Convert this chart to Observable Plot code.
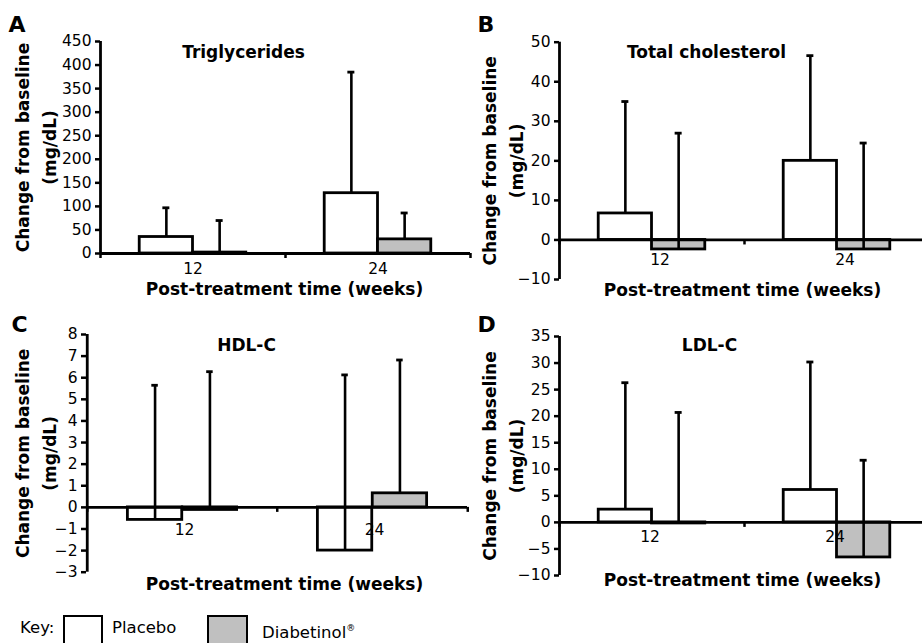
<!DOCTYPE html>
<html><head><meta charset="utf-8">
<script src="https://cdn.jsdelivr.net/npm/d3@7"></script>
<script src="https://cdn.jsdelivr.net/npm/@observablehq/plot@0.6"></script>
<style>
body{margin:0;background:#fff;font-family:"DejaVu Sans",sans-serif;}
#root{position:relative;width:922px;height:643px;overflow:hidden;background:#fff;}
.panel{position:absolute;}
.lg{position:absolute;font-size:16.5px;line-height:20px;color:#000;white-space:nowrap;}
.box{position:absolute;box-sizing:border-box;border:2.5px solid #000;width:40px;height:40px;}
sup{font-size:9px;vertical-align:7px;line-height:0;}
</style></head>
<body><div id="root">
<div class="panel" id="pA" style="left:0;top:0"></div>
<div class="panel" id="pB" style="left:461px;top:0"></div>
<div class="panel" id="pC" style="left:0;top:310px"></div>
<div class="panel" id="pD" style="left:461px;top:310px"></div>
<div class="lg" style="left:20px;top:618px">Key:</div>
<div class="box" style="left:63px;top:615px;background:#fff"></div>
<div class="lg" style="left:112px;top:618px">Placebo</div>
<div class="box" style="left:207px;top:615px;width:41px;background:#c0c0c0"></div>
<div class="lg" style="left:262px;top:623px">Diabetinol<sup>®</sup></div>
</div>
<script>
const weeks = ["12", "24"];
const groups = ["Placebo", "Diabetinol"];

// Triglycerides (mean change, SD)
const tgPlacebo = [35, 128];
const tgPlaceboSD = [62, 257];
const tgDiab = [2, 30];
const tgDiabSD = [68, 56];
const tgTicks = [0, 50, 100, 150, 200, 250, 300, 350, 400, 450];

// Total cholesterol
const tcPlacebo = [6.7, 20];
const tcPlaceboSD = [28.3, 26.6];
const tcDiab = [-2.4, -2.4];
const tcDiabSD = [29.4, 26.9];
const tcTicks = [-10, 0, 10, 20, 30, 40, 50];

// HDL-C
const hdlPlacebo = [-0.58, -2.0];
const hdlPlaceboSD = [6.23, 8.13];
const hdlDiab = [-0.12, 0.65];
const hdlDiabSD = [6.4, 6.17];
const hdlTicks = [-3, -2, -1, 0, 1, 2, 3, 4, 5, 6, 7, 8];

// LDL-C
const ldlPlacebo = [2.4, 6.1];
const ldlPlaceboSD = [23.9, 24.1];
const ldlDiab = [-0.2, -6.6];
const ldlDiabSD = [20.9, 18.3];
const ldlTicks = [-10, -5, 0, 5, 10, 15, 20, 25, 30, 35];

function table(p, pSD, d, dSD) {
  return weeks.flatMap((w, i) => [
    {week: w, group: groups[0], value: p[i], upper: p[i] + pSD[i]},
    {week: w, group: groups[1], value: d[i], upper: d[i] + dSD[i]}
  ]);
}

const FONT = "'DejaVu Sans', sans-serif";

function panel(el, c) {
  const data = c.data;
  const bw = (c.width - c.marginLeft - c.marginRight) / weeks.length;
  const outer = bw * 0.212, barW = bw * 0.288;
  const P = data.filter(d => d.group === groups[0]);
  const D = data.filter(d => d.group === groups[1]);
  const pc = outer + barW / 2, dc = outer + barW * 1.5;
  const capHalf = 3.5;
  const plot = Plot.plot({
    width: c.width, height: c.height,
    marginLeft: c.marginLeft, marginRight: c.marginRight,
    marginTop: c.marginTop, marginBottom: c.marginBottom,
    style: {fontFamily: FONT, fontSize: "15.5px", background: "transparent", overflow: "visible", maxWidth: "none", color: "#000"},
    x: {type: "band", domain: weeks, padding: 0, axis: null},
    y: {domain: c.yDomain, nice: false, axis: null},
    marks: [
      Plot.barY(P, {x: "week", y: "value", insetLeft: outer, insetRight: bw - outer - barW, fill: "#fff", stroke: "#000", strokeWidth: 2.8}),
      Plot.barY(D, {x: "week", y: "value", insetLeft: outer + barW, insetRight: outer, fill: "#c0c0c0", stroke: "#000", strokeWidth: 2.8}),
      Plot.ruleX(P, {x: "week", y1: "value", y2: "upper", dx: pc - bw / 2, stroke: "#000", strokeWidth: 2.6}),
      Plot.ruleX(D, {x: "week", y1: "value", y2: "upper", dx: dc - bw / 2, stroke: "#000", strokeWidth: 2.6}),
      Plot.tickY(P, {x: "week", y: "upper", insetLeft: pc - capHalf, insetRight: bw - pc - capHalf, stroke: "#000", strokeWidth: 2.8}),
      Plot.tickY(D, {x: "week", y: "upper", insetLeft: dc - capHalf, insetRight: bw - dc - capHalf, stroke: "#000", strokeWidth: 2.8}),
      // x axis line at zero
      Plot.ruleY([0], {stroke: "#000", strokeWidth: 2.8}),
      // x ticks at category boundaries
      Plot.ruleX(weeks, {x: d => d, y1: 0, y2: 0, insetBottom: -5, dx: -bw / 2, stroke: "#000", strokeWidth: 2.5}),
      Plot.ruleX([weeks[weeks.length - 1]], {x: d => d, y1: 0, y2: 0, insetBottom: -5, dx: bw / 2, stroke: "#000", strokeWidth: 2.5}),
      // y axis line
      Plot.ruleX([weeks[0]], {x: d => d, y1: c.yDomain[0], y2: c.yDomain[1], dx: -bw / 2, stroke: "#000", strokeWidth: 2.8}),
      Plot.axisY({ticks: c.yTicks, tickSize: 5, tickPadding: 4, strokeWidth: 2.5, fontSize: 15.5, fill: "#000", label: null}),
      // x tick labels
      Plot.text(weeks, {x: d => d, y: 0, dy: c.xlabDy, dx: c.xlabDx, text: d => d, fontSize: 15.5, fill: "#000", lineAnchor: "middle"}),
      // titles
      Plot.text([c.title], {frameAnchor: "top", text: d => d, dx: c.titleDx, dy: c.titleDy, textAnchor: "middle", lineAnchor: "middle", fontWeight: "bold", fontSize: 17, fill: "#000"}),
      Plot.text(["Post-treatment time (weeks)"], {frameAnchor: "bottom", text: d => d, dx: c.xtDx, dy: c.xtDy, textAnchor: "middle", lineAnchor: "middle", fontWeight: "bold", fontSize: 17, fill: "#000"}),
      Plot.text(["Change from baseline\n(mg/dL)"], {frameAnchor: "left", text: d => d, rotate: -90, dx: c.ylDx, textAnchor: "middle", lineAnchor: "middle", lineHeight: 1.6, fontWeight: "bold", fontSize: 17, fill: "#000"}),
      Plot.text([c.letter], {frameAnchor: "top-left", text: d => d, textAnchor: "start", lineAnchor: "middle", dx: c.letterX - c.marginLeft, dy: c.letterY - c.marginTop, fontWeight: "bold", fontSize: 22, fill: "#000"})
    ]
  });
  document.getElementById(el).appendChild(plot);
}

panel("pA", {
  data: table(tgPlacebo, tgPlaceboSD, tgDiab, tgDiabSD), yDomain: [0, 450], yTicks: tgTicks,
  width: 470, height: 310, marginLeft: 100, marginRight: 0, marginTop: 41, marginBottom: 57,
  xlabDy: 16, xlabDx: 0, title: "Triglycerides", titleDx: -42, titleDy: 11,
  xtDx: -1, xtDy: 36.5, ylDx: -67, letter: "A", letterX: 8, letterY: 24
});
panel("pB", {
  data: table(tcPlacebo, tcPlaceboSD, tcDiab, tcDiabSD), yDomain: [-10, 50], yTicks: tcTicks,
  width: 470, height: 310, marginLeft: 98, marginRight: 2, marginTop: 41.7, marginBottom: 31,
  xlabDy: 20.5, xlabDx: 8, title: "Total cholesterol", titleDx: -38, titleDy: 10,
  xtDx: -2, xtDy: 11, ylDx: -59, letter: "B", letterX: 16, letterY: 24.5
});
panel("pC", {
  data: table(hdlPlacebo, hdlPlaceboSD, hdlDiab, hdlDiabSD), yDomain: [-3, 8], yTicks: hdlTicks,
  width: 470, height: 333, marginLeft: 86, marginRight: 3, marginTop: 24, marginBottom: 71.3,
  xlabDy: 23, xlabDx: 2, title: "HDL-C", titleDx: -30.5, titleDy: 11,
  xtDx: 7.5, xtDy: 12, ylDx: -53, letter: "C", letterX: 11, letterY: 14
});
panel("pD", {
  data: table(ldlPlacebo, ldlPlaceboSD, ldlDiab, ldlDiabSD), yDomain: [-10, 35], yTicks: ldlTicks,
  width: 470, height: 333, marginLeft: 98, marginRight: 2, marginTop: 26, marginBottom: 68,
  xlabDy: 14.5, xlabDx: -2, title: "LDL-C", titleDx: -35, titleDy: 9,
  xtDx: -2, xtDy: 5, ylDx: -59, letter: "D", letterX: 16, letterY: 14
});
</script>
</body></html>
